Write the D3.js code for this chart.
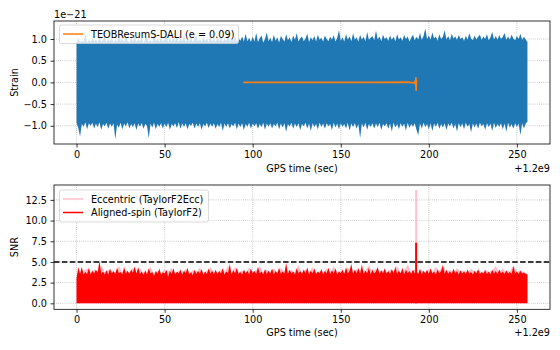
<!DOCTYPE html>
<html>
<head>
<meta charset="utf-8">
<script src="https://cdn.jsdelivr.net/npm/d3@7"></script>
<style>
  body { margin: 0; background: #fff; }
  text { font-family: "DejaVu Sans", sans-serif; }
</style>
</head>
<body>
<script>
// strain envelope (units of 1e-21), one value per second from t=0 to t=256
const strainHi = [
  0.90, 1.02, 0.92, 0.96, 0.93, 1.12, 0.91, 0.99, 0.92, 1.04,
  0.94, 1.00, 0.91, 1.06, 0.93, 0.97, 1.08, 0.92, 1.01, 0.94,
  1.05, 0.91, 0.99, 0.93, 1.07, 0.95, 1.02, 0.92, 1.10, 0.94,
  0.93, 1.03, 0.94, 1.08, 0.92, 1.00, 0.95, 1.04, 0.91, 1.01,
  1.06, 0.93, 0.98, 0.92, 1.09, 0.95, 1.02, 0.93, 1.05, 0.94,
  1.00, 1.08, 0.92, 1.01, 0.94, 1.04, 0.95, 1.07, 0.93, 1.02,
  0.94, 1.10, 0.93, 1.00, 0.95, 1.05, 0.92, 1.02, 1.08, 0.94,
  1.00, 0.93, 1.06, 0.95, 1.03, 0.92, 1.09, 0.94, 1.01, 0.93,
  1.04, 0.95, 1.07, 0.93, 1.02, 0.96, 1.10, 0.94, 1.03, 0.95,
  1.08, 0.93, 1.01, 0.96, 1.06, 0.94, 1.12, 0.95, 1.03, 0.93,
  1.05, 0.94, 1.14, 0.93, 1.02, 1.08, 0.92, 1.00, 1.15, 0.95,
  1.03, 0.93, 1.10, 0.96, 1.04, 0.92, 1.07, 1.00, 0.94, 1.11,
  0.97, 1.04, 0.93, 1.08, 0.98, 1.13, 0.94, 1.02, 1.06, 0.95,
  1.01, 1.12, 0.93, 1.04, 0.97, 1.07, 0.94, 1.10, 0.98, 1.03,
  0.94, 1.08, 1.00, 0.95, 1.05, 0.98, 1.09, 0.94, 1.03, 1.20,
  0.96, 1.04, 0.94, 1.11, 0.99, 1.06, 0.95, 1.13, 0.98, 1.04,
  0.94, 1.09, 0.99, 1.05, 0.95, 1.16, 0.98, 1.03, 1.07, 0.97,
  1.19, 0.99, 1.06, 0.95, 1.10, 1.00, 1.04, 0.96, 1.08, 0.98,
  1.05, 0.95, 1.11, 0.99, 1.04, 0.96, 1.09, 1.00, 1.06, 0.94,
  1.03, 1.10, 0.97, 1.05, 0.99, 1.14, 0.98, 1.07, 1.24, 1.00,
  1.08, 0.98, 1.15, 1.01, 1.06, 0.96, 1.11, 1.00, 1.05, 1.20,
  0.99, 1.07, 0.97, 1.12, 1.01, 1.06, 0.98, 1.09, 1.00, 1.04,
  0.96, 1.07, 0.99, 1.13, 1.01, 0.97, 1.08, 0.99, 1.05, 1.10,
  0.98, 1.06, 1.00, 1.11, 0.97, 1.04, 1.16, 0.99, 1.07, 0.98,
  1.09, 1.00, 1.05, 1.14, 0.98, 1.06, 0.99, 1.10, 1.01, 0.97,
  1.07, 1.00, 1.12, 0.98, 1.05, 0.99, 0.93
];
const strainLo = [
  -0.93, -1.05, -1.25, -0.96, -1.02, -0.92, -1.08, -0.94, -1.00, -0.93,
  -1.06, -0.95, -1.03, -0.92, -1.09, -0.96, -1.01, -0.93, -1.07, -0.95,
  -1.02, -0.94, -1.31, -0.97, -1.04, -0.93, -1.08, -0.95, -1.01, -0.92,
  -1.06, -0.96, -1.03, -0.94, -1.10, -0.95, -1.02, -0.93, -1.07, -0.96,
  -1.00, -1.29, -0.95, -1.04, -0.93, -1.08, -0.96, -1.02, -0.94, -1.06,
  -0.95, -1.03, -0.93, -1.09, -0.96, -1.01, -0.94, -1.05, -0.92, -1.07,
  -0.95, -1.02, -0.94, -1.08, -0.96, -1.00, -0.93, -1.06, -0.95, -1.03,
  -0.94, -1.09, -0.96, -1.01, -0.93, -1.05, -0.95, -1.02, -0.94, -1.07,
  -0.96, -1.03, -0.93, -1.12, -0.95, -1.02, -0.94, -1.06, -0.96, -1.01,
  -0.93, -1.08, -0.95, -1.03, -0.94, -1.10, -0.96, -1.02, -0.93, -1.06,
  -0.95, -1.01, -0.94, -1.07, -0.96, -1.03, -0.93, -1.09, -0.95, -1.02,
  -0.94, -1.06, -0.96, -1.01, -0.93, -1.08, -0.95, -1.04, -0.94, -1.14,
  -0.96, -1.02, -0.93, -1.07, -0.95, -1.03, -0.94, -1.10, -0.96, -1.01,
  -0.93, -1.06, -0.95, -1.12, -0.94, -1.03, -0.96, -1.08, -0.93, -1.02,
  -0.95, -1.07, -0.94, -1.01, -0.96, -1.10, -0.93, -1.04, -0.95, -1.08,
  -0.94, -1.02, -0.96, -1.06, -0.93, -1.11, -0.95, -1.03, -0.94, -1.07,
  -0.96, -1.28, -0.95, -1.04, -0.93, -1.09, -0.96, -1.02, -0.94, -1.06,
  -0.95, -1.03, -0.93, -1.10, -0.96, -1.01, -0.94, -1.07, -0.95, -1.13,
  -0.93, -1.04, -0.96, -1.08, -0.94, -1.02, -0.95, -1.11, -0.93, -1.05,
  -0.96, -1.02, -0.94, -1.09, -1.22, -0.95, -1.06, -0.93, -1.03, -0.96,
  -1.08, -0.94, -1.12, -0.95, -1.02, -0.93, -1.07, -0.96, -1.04, -0.94,
  -1.10, -0.95, -1.01, -0.93, -1.06, -0.96, -1.13, -0.94, -1.03, -0.95,
  -1.08, -0.93, -1.02, -0.96, -1.15, -0.94, -1.04, -0.95, -1.07, -0.93,
  -1.01, -0.96, -1.09, -0.94, -1.03, -0.95, -1.12, -0.93, -1.05, -0.96,
  -1.02, -0.94, -1.08, -0.95, -1.14, -0.93, -1.04, -0.96, -1.07, -0.94,
  -1.03, -0.95, -1.21, -0.94, -1.06, -0.95, -0.91
];

// injected eccentric waveform (TEOBResumS-DALI), only the end is visible
const signalT = [94.7, 130, 170, 188, 191.5, 192.3, 192.55, 192.7, 192.8, 192.9, 193.0];
const signalH = [0, 0, 0, 0.004, -0.01, 0.03, -0.07, 0.115, -0.194, 0.06, 0];

// SNR upper envelope, aligned-spin template, one value per second
const snrAligned = [
  3.05, 4.35, 3.60, 4.40, 3.45, 3.80, 3.55, 4.30, 3.50, 3.95,
  3.60, 4.10, 3.70, 5.20, 3.55, 3.85, 3.50, 4.00, 3.45, 4.20,
  3.60, 3.90, 3.55, 4.30, 3.65, 3.80, 3.50, 4.40, 3.60, 3.95,
  3.55, 4.10, 3.70, 4.45, 3.60, 4.35, 3.55, 3.85, 3.40, 4.00,
  3.50, 4.25, 3.60, 3.80, 3.30, 3.95, 3.55, 4.20, 3.45, 3.75,
  3.60, 4.05, 3.20, 3.90, 3.55, 4.25, 3.50, 3.85, 3.60, 4.10,
  3.45, 3.95, 3.65, 4.30, 3.50, 3.80, 3.40, 4.05, 3.55, 3.90,
  3.60, 4.15, 3.45, 3.85, 3.55, 4.20, 3.60, 3.95, 3.50, 4.10,
  3.55, 3.90, 3.60, 4.25, 3.45, 3.85, 3.65, 4.75, 3.50, 4.00,
  3.60, 4.30, 3.55, 3.80, 3.45, 4.10, 3.60, 3.95, 3.50, 4.20,
  3.65, 3.90, 3.55, 4.40, 3.60, 3.85, 3.50, 4.15, 3.55, 3.95,
  3.60, 4.20, 3.50, 3.90, 3.65, 4.30, 3.55, 3.85, 3.60, 4.90,
  3.55, 4.05, 3.60, 3.85, 3.50, 4.25, 3.65, 3.90, 3.55, 4.10,
  3.60, 4.35, 3.50, 3.95, 3.65, 4.20, 3.55, 3.85, 3.60, 4.15,
  3.50, 3.90, 3.65, 4.30, 3.55, 4.00, 3.60, 4.20, 3.50, 3.85,
  3.65, 4.10, 3.55, 4.35, 3.60, 3.90, 4.75, 3.55, 4.05, 3.65,
  4.20, 3.60, 4.70, 3.55, 3.95, 3.65, 4.30, 3.50, 4.10, 3.60,
  3.85, 4.40, 3.55, 4.00, 3.65, 4.25, 3.60, 3.90, 3.55, 4.15,
  3.65, 4.45, 3.55, 3.95, 3.60, 4.30, 3.50, 4.05, 3.65, 3.90,
  3.55, 4.10, 3.60, 3.85, 3.55, 4.20, 3.50, 3.95, 3.60, 4.05,
  3.55, 4.25, 3.60, 3.85, 3.50, 4.10, 3.65, 3.90, 4.60, 3.55,
  4.05, 3.60, 3.85, 3.55, 4.20, 3.65, 3.90, 3.50, 4.00, 3.60,
  3.85, 3.55, 4.10, 3.60, 3.80, 3.50, 3.95, 3.60, 4.15, 3.55,
  3.80, 3.60, 4.00, 3.55, 3.85, 3.50, 4.05, 3.60, 3.90, 3.55,
  4.10, 3.60, 3.85, 3.55, 4.00, 3.60, 3.80, 3.55, 4.50, 3.60,
  3.85, 3.55, 3.95, 3.60, 3.75, 3.55, 3.50
];

// SNR upper envelope, eccentric template, one value every 2 seconds
const snrEcc = [
  3.00, 3.70, 3.90, 4.20, 3.80, 4.10, 3.70, 4.60, 3.80, 4.00,
  3.90, 3.70, 4.50, 3.80, 4.00, 3.70, 4.30, 3.60, 4.20, 3.70,
  3.80, 4.40, 3.60, 3.90, 3.70, 4.10, 3.80, 4.30, 3.60, 3.90,
  3.70, 4.20, 3.60, 4.00, 3.80, 4.30, 3.70, 3.90, 4.40, 3.80,
  3.70, 4.10, 3.80, 4.50, 3.70, 4.40, 3.80, 4.00, 3.70, 4.30,
  3.80, 4.00, 4.50, 3.70, 4.10, 3.80, 4.20, 3.70, 4.30, 3.80,
  3.90, 4.00, 3.80, 4.60, 3.70, 4.10, 3.80, 4.40, 3.70, 3.90,
  3.80, 4.20, 3.70, 4.50, 3.80, 3.90, 3.70, 4.40, 3.80, 4.00,
  4.30, 3.80, 4.00, 4.60, 3.70, 4.20, 3.80, 4.00, 3.70, 4.10,
  3.80, 4.50, 3.70, 3.90, 4.70, 3.80, 4.10, 3.70, 4.00, 3.80,
  4.10, 3.80, 4.40, 3.90, 4.70, 3.80, 4.10, 3.70, 4.30, 3.80,
  4.00, 3.70, 4.20, 3.80, 3.90, 3.70, 4.10, 3.80, 4.00, 4.50,
  3.80, 4.20, 3.70, 3.90, 4.60, 3.80, 4.00, 3.70, 3.60
];

// trigger peak
const peakTime = 192.8;
const peakEcc = 13.7;
const peakAligned = 7.33;
const snrThreshold = 5;

const xTicks = [0, 50, 100, 150, 200, 250];
const strainTicks = [-1.0, -0.5, 0.0, 0.5, 1.0];
const snrTicks = [0, 2.5, 5, 7.5, 10, 12.5];

const w = 560;
const h = 350;
const left = 54, right = 550;
const top1 = 21, bot1 = 144;
const top2 = 185, bot2 = 309.3;
const fs = 9.7;

const svg = d3.select("body").append("svg").attr("width", w).attr("height", h);

const x = d3.scaleLinear().domain([-12.8, 268.8]).range([left, right]);
const yStrain = d3.scaleLinear().domain([-1.42, 1.415]).range([bot1, top1]);
const ySnr = d3.scaleLinear().domain([-0.72, 14.3]).range([bot2, top2]);

const tStrain = d3.range(strainHi.length);
const tAligned = d3.range(snrAligned.length);
const tEcc = snrEcc.map((d, i) => i * 2);

const defs = svg.append("defs");
[["clip1", top1, bot1], ["clip2", top2, bot2]].forEach(([id, t, b]) => {
    defs.append("clipPath").attr("id", id)
        .append("rect").attr("x", left).attr("y", t)
        .attr("width", right - left).attr("height", b - t);
});

const grid = (g, y, yt, t, b) => {
    g.selectAll(".gx").data(xTicks).enter().append("line")
        .attr("x1", (d) => x(d)).attr("x2", (d) => x(d))
        .attr("y1", t).attr("y2", b);
    g.selectAll(".gy").data(yt).enter().append("line")
        .attr("x1", left).attr("x2", right)
        .attr("y1", (d) => y(d)).attr("y2", (d) => y(d));
    g.selectAll("line")
        .attr("stroke", "#b0b0b0")
        .attr("stroke-width", 0.8)
        .attr("stroke-dasharray", "0.8,1.3");
};

const axes = (y, yt, t, b, fmt) => {
    const gx = svg.append("g")
        .attr("transform", `translate(0, ${b})`)
        .call(d3.axisBottom(x).tickValues(xTicks).tickSize(3.5).tickPadding(3.5).tickFormat(d3.format("d")));
    const gy = svg.append("g")
        .attr("transform", `translate(${left}, 0)`)
        .call(d3.axisLeft(y).tickValues(yt).tickSize(3.5).tickPadding(3.5).tickFormat(fmt));
    [gx, gy].forEach((g) => {
        g.select(".domain").remove();
        g.selectAll("line").attr("stroke", "#000").attr("stroke-width", 0.8);
        g.selectAll("text").attr("font-size", fs).attr("font-family", "DejaVu Sans").attr("fill", "#000");
    });
    svg.append("rect")
        .attr("x", left).attr("y", t)
        .attr("width", right - left).attr("height", b - t)
        .attr("fill", "none").attr("stroke", "#000").attr("stroke-width", 0.8);
};

// ---------- top panel: strain ----------
grid(svg.append("g"), yStrain, strainTicks, top1, bot1);

const p1 = svg.append("g").attr("clip-path", "url(#clip1)");
p1.append("path")
    .datum(tStrain)
    .attr("fill", "#1f77b4")
    .attr("d", d3.area()
        .x((i) => x(i))
        .y0((i) => yStrain(strainLo[i]))
        .y1((i) => yStrain(strainHi[i])));

p1.append("path")
    .datum(d3.range(signalT.length))
    .attr("fill", "none")
    .attr("stroke", "#ff7f0e")
    .attr("stroke-width", 1.8)
    .attr("d", d3.line().x((i) => x(signalT[i])).y((i) => yStrain(signalH[i])));

axes(yStrain, strainTicks, top1, bot1, d3.format(".1f"));

// legend
const lg1 = svg.append("g").attr("font-size", fs);
lg1.append("rect")
    .attr("x", 59.5).attr("y", 25).attr("width", 179).attr("height", 18.5)
    .attr("rx", 2).attr("fill", "#fff").attr("fill-opacity", 0.8)
    .attr("stroke", "#d0d0d0").attr("stroke-width", 0.8);
lg1.append("line")
    .attr("x1", 63).attr("x2", 83).attr("y1", 34).attr("y2", 34)
    .attr("stroke", "#ff7f0e").attr("stroke-width", 1.5);
lg1.append("text").attr("x", 91).attr("y", 37.5).text("TEOBResumS-DALI (e = 0.09)");

svg.append("text").attr("x", left).attr("y", 18).attr("font-size", fs).text("1e\u221221");
svg.append("text")
    .attr("transform", `translate(18, ${(top1 + bot1) / 2}) rotate(-90)`)
    .attr("text-anchor", "middle").attr("font-size", fs).text("Strain");
svg.append("text").attr("x", (left + right) / 2).attr("y", 172)
    .attr("text-anchor", "middle").attr("font-size", fs).text("GPS time (sec)");
svg.append("text").attr("x", right).attr("y", 172)
    .attr("text-anchor", "end").attr("font-size", fs).text("+1.2e9");

// ---------- bottom panel: SNR ----------
grid(svg.append("g"), ySnr, snrTicks, top2, bot2);

const p2 = svg.append("g").attr("clip-path", "url(#clip2)");
p2.append("path")
    .datum(tEcc)
    .attr("fill", "pink")
    .attr("d", d3.area()
        .x((t) => x(t))
        .y0(ySnr(0))
        .y1((t, i) => ySnr(snrEcc[i])));
p2.append("line")
    .attr("x1", x(peakTime)).attr("x2", x(peakTime))
    .attr("y1", ySnr(0)).attr("y2", ySnr(peakEcc))
    .attr("stroke", "pink").attr("stroke-width", 2);

p2.append("path")
    .datum(tAligned)
    .attr("fill", "red")
    .attr("d", d3.area()
        .x((i) => x(i))
        .y0(ySnr(0))
        .y1((i) => ySnr(snrAligned[i])));
p2.append("line")
    .attr("x1", x(peakTime)).attr("x2", x(peakTime))
    .attr("y1", ySnr(0)).attr("y2", ySnr(peakAligned))
    .attr("stroke", "red").attr("stroke-width", 2);

p2.append("line")
    .attr("x1", left).attr("x2", right)
    .attr("y1", ySnr(snrThreshold)).attr("y2", ySnr(snrThreshold))
    .attr("stroke", "#000").attr("stroke-width", 1.5)
    .attr("stroke-dasharray", "5.5,2.4");

axes(ySnr, snrTicks, top2, bot2, d3.format(".1f"));

const lg2 = svg.append("g").attr("font-size", fs);
lg2.append("rect")
    .attr("x", 59.5).attr("y", 190).attr("width", 149).attr("height", 32)
    .attr("rx", 2).attr("fill", "#fff").attr("fill-opacity", 0.8)
    .attr("stroke", "#d0d0d0").attr("stroke-width", 0.8);
[["pink", "Eccentric (TaylorF2Ecc)", 199], ["red", "Aligned-spin (TaylorF2)", 212.5]].forEach(([c, label, y]) => {
    lg2.append("line")
        .attr("x1", 63).attr("x2", 83).attr("y1", y).attr("y2", y)
        .attr("stroke", c).attr("stroke-width", 1.5);
    lg2.append("text").attr("x", 91).attr("y", y + 3.5).text(label);
});

svg.append("text")
    .attr("transform", `translate(18, ${(top2 + bot2) / 2}) rotate(-90)`)
    .attr("text-anchor", "middle").attr("font-size", fs).text("SNR");
svg.append("text").attr("x", (left + right) / 2).attr("y", 336)
    .attr("text-anchor", "middle").attr("font-size", fs).text("GPS time (sec)");
svg.append("text").attr("x", right).attr("y", 336)
    .attr("text-anchor", "end").attr("font-size", fs).text("+1.2e9");
</script>
</body>
</html>
